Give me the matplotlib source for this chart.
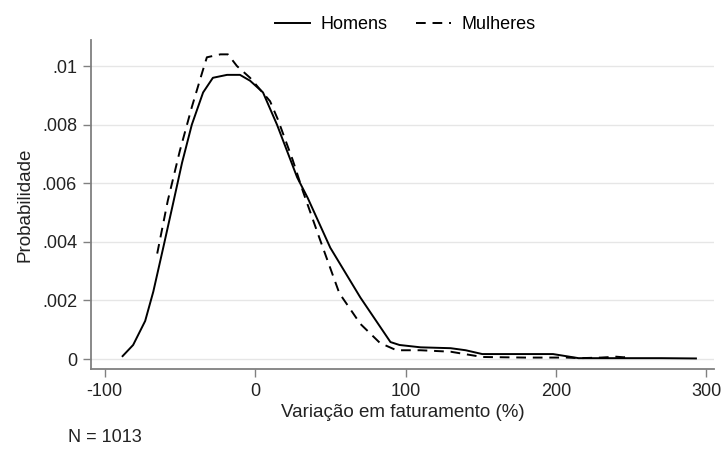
import matplotlib

matplotlib.use("Agg")
import matplotlib.pyplot as plt

plt.rcParams["font.family"] = ["Liberation Sans", "DejaVu Sans"]
plt.rcParams["axes.unicode_minus"] = False

# kernel density estimates
homens_x = [-88, -81, -73, -67.6, -61, -54.5, -48.5, -42, -34.5, -28, -18.6, -10, -3.3,
            5.3, 14.6, 28, 35, 50, 70, 90, 96, 110, 130, 140, 151, 175, 198, 215, 240,
            270, 293]
homens_y = [.0001, .00048, .0013, .0023, .0038, .0053, .0067, .0080, .0091, .0096,
            .0097, .0097, .0095, .0091, .0080, .0062, .0055, .0038, .0021, .00058,
            .00048, .0004, .00037, .0003, .00017, .00017, .00017, .00003, .00003,
            .00003, .00002]

mulheres_x = [-65, -58, -50, -42, -35, -32, -23, -18, -12, -3.3, 10, 15, 25, 32, 43,
              56, 70, 83, 94, 110, 130, 151, 180, 207, 216, 230, 240, 245, 250]
mulheres_y = [.0036, .0054, .0071, .0086, .0098, .0103, .0104, .0104, .0100, .0096,
              .0088, .0082, .0068, .0057, .0041, .00225, .0012, .00055, .0003, .0003,
              .00025, .00007, .00005, .00005, .00003, .00005, .00008, .00006, .00008]

xticks = [-100, 0, 100, 200, 300]
yticks = [0, .002, .004, .006, .008, .01]
ytick_labels = ["0", ".002", ".004", ".006", ".008", ".01"]

fig = plt.figure(figsize=(7.23, 4.57), dpi=100)
ax = fig.add_axes([91 / 723, 88 / 457, 623 / 723, 329 / 457])

ax.plot(homens_x, homens_y, color="black", lw=1.4, label="Homens")
ax.plot(mulheres_x, mulheres_y, color="black", lw=1.4, ls=(0, (5, 3.5)), label="Mulheres")

ax.set_xlim(-109, 305)
ax.set_ylim(-0.00034, 0.01089)
ax.set_xticks(xticks)
ax.set_yticks(yticks)
ax.set_yticklabels(ytick_labels)
ax.grid(axis="y", color="#e6e6e6", lw=1)
ax.set_axisbelow(True)
for s in ("top", "right"):
    ax.spines[s].set_visible(False)
for s in ("left", "bottom"):
    ax.spines[s].set_color("#808080")
    ax.spines[s].set_linewidth(1.3)
ax.tick_params(direction="out", length=6, width=1, color="#808080",
               labelsize=13, labelcolor="#222222", pad=4)

ax.set_xlabel("Variação em faturamento (%)", fontsize=13.5, color="#222222", labelpad=3)
ax.set_ylabel("Probabilidade", fontsize=13.5, color="#222222", labelpad=6)

fig.legend(loc="upper center", bbox_to_anchor=(0.561, 1.0), ncol=2, frameon=False,
           fontsize=13, handlelength=1.9, columnspacing=1.6, handletextpad=0.6)
fig.text(68 / 723, 1 - 438 / 457, "N = 1013", fontsize=13, color="#222222", va="center")

fig.savefig("out.png", dpi=100)
